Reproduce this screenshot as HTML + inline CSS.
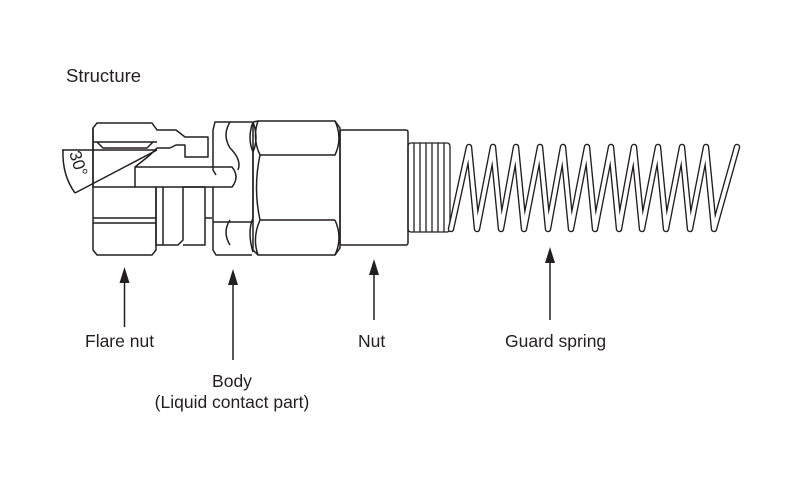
<!DOCTYPE html>
<html><head><style>
html,body{margin:0;padding:0;background:#fff;width:800px;height:480px;overflow:hidden}
svg{display:block}
text{font-family:"Liberation Sans",Arial,sans-serif;fill:#231f20}
</style></head><body>
<svg width="800" height="480" viewBox="0 0 800 480" xmlns="http://www.w3.org/2000/svg">
<text x="66" y="82" font-size="18.5">Structure</text>
<g fill="none" stroke="#231f20" stroke-width="1.5" stroke-linejoin="round">
<path d="M93,128 L97,123 L152,123 L157,130 L176,130 L185,137 L208,137 L208,157 L185,157 L185,145 L176,145 L170,148 L157,148 L150,155 L135,167 L135,187 L93,187 Z" fill="#fff"/>
<path d="M93,128 L93,250 L97,255 L152,255 L156,250 L156,187"/>
<line x1="93" y1="142" x2="157" y2="142"/>
<path d="M97,142 L103,148 L147,148 L153,142"/>
<line x1="93" y1="218" x2="156" y2="218"/>
<line x1="93" y1="223" x2="156" y2="223"/>
<path d="M156,187 L156,245 L163,245 L163,187"/>
<path d="M183,187 L183,240 L178,245 L163,245 M183,187 L205,187 L205,245 L183,245"/>
<line x1="205" y1="218" x2="212" y2="218"/>
<path d="M135,167 L232,167 Q240,177 232,187 L135,187"/>
<line x1="62" y1="150" x2="157" y2="150"/>
<line x1="75" y1="193" x2="157" y2="150"/>
<path d="M63,150 Q62,175 75,193"/>
<path d="M213,130 L215,122 L222,122 L252,122 M213,130 L213,170 L216,175 M213,187 L213,250 L216,255 L252,255"/>
<path d="M230,122 Q222,135 230,148 M230,148 Q242,160 238,170 M230,245 Q222,232 230,220"/>
<line x1="213" y1="222" x2="253" y2="222"/>
<path d="M253,122 L258,121 L335,121 L340,128 L340,248 L335,255 L258,255 L253,250 Z"/>
<path d="M253,122 Q247,138 253,152 Q259,138 253,122 M253,152 L253,218 M253,218 Q247,232 253,252"/>
<path d="M258,121 Q252,138 260,155 L335,155 Q343,138 335,121"/>
<path d="M260,155 Q253,188 260,220 L335,220 M258,255 Q252,238 260,220 M335,220 Q343,238 335,255"/>
<rect x="340" y="130" width="68" height="115" rx="2"/>
</g>
<g fill="none" stroke="#231f20" stroke-width="1.3">
<rect x="408" y="143" width="42" height="89" rx="3"/>
<line x1="414" y1="143" x2="414" y2="232"/>
<line x1="420" y1="143" x2="420" y2="232"/>
<line x1="426" y1="143" x2="426" y2="232"/>
<line x1="432" y1="143" x2="432" y2="232"/>
<line x1="438" y1="143" x2="438" y2="232"/>
<line x1="444" y1="143" x2="444" y2="232"/>
</g>
<g fill="none" stroke-linecap="round" stroke-linejoin="round">
<polyline stroke="#231f20" stroke-width="6.5" points="451,229 469,147 477,229 493,147 501,229 516,147 524,229 540,147 548,229 563,147 571,229 587,147 595,229 611,147 619,229 634,147 642,229 658,147 666,229 682,147 690,229 706,147 714,229 737,147"/>
<polyline stroke="#fff" stroke-width="3.8" points="451,229 469,147 477,229 493,147 501,229 516,147 524,229 540,147 548,229 563,147 571,229 587,147 595,229 611,147 619,229 634,147 642,229 658,147 666,229 682,147 690,229 706,147 714,229 737,147"/>
</g>
<text x="0" y="0" font-size="17" transform="translate(69,153) rotate(72)">30°</text>
<g stroke="#231f20" stroke-width="1.5" fill="#231f20">
<line x1="124.5" y1="278" x2="124.5" y2="327"/><path d="M124.5,267 L119.5,283 L129.5,283 Z" stroke="none"/>
<line x1="233" y1="280" x2="233" y2="360"/><path d="M233,269 L228,285 L238,285 Z" stroke="none"/>
<line x1="374" y1="270" x2="374" y2="320"/><path d="M374,259 L369,275 L379,275 Z" stroke="none"/>
<line x1="550" y1="258" x2="550" y2="320"/><path d="M550,247 L545,263 L555,263 Z" stroke="none"/>
</g>
<text x="85" y="347" font-size="17.5">Flare nut</text>
<text x="358" y="347" font-size="17.5">Nut</text>
<text x="505" y="347" font-size="17.5">Guard spring</text>
<text x="232" y="387" font-size="17.5" text-anchor="middle">Body</text>
<text x="232" y="408" font-size="17.5" text-anchor="middle">(Liquid contact part)</text>
</svg>
</body></html>
